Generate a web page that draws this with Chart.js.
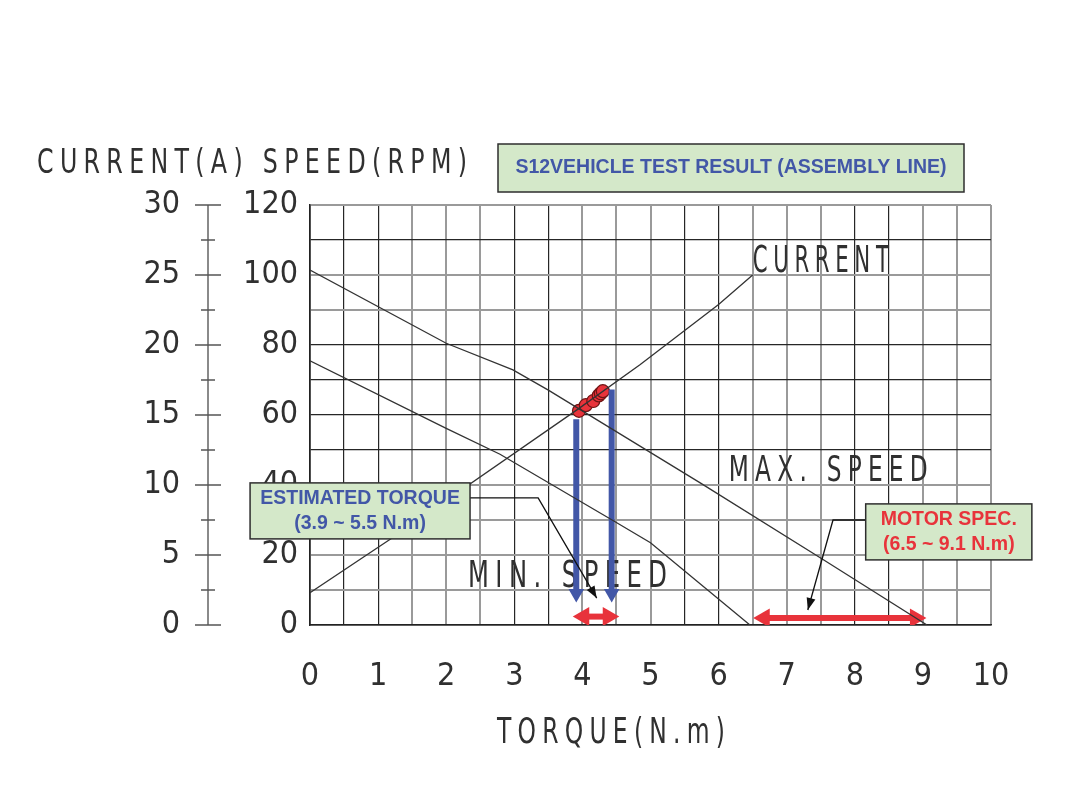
<!DOCTYPE html>
<html>
<head>
<meta charset="utf-8">
<script src="https://cdn.jsdelivr.net/npm/chart.js@4.4.1/dist/chart.umd.min.js"></script>
<style>
  html, body { margin: 0; padding: 0; background: #fff; }
  canvas { display: block; }
</style>
</head>
<body>
<canvas id="motorChart" width="1080" height="810"></canvas>
<script>
// curva de corriente (A) vs torque
const torqueCurrent = [0, 1.2, 3.93, 4.85, 6.0, 6.5];
const currentA = [2.3, 6.2, 15.4, 18.6, 22.9, 25.0];

// velocidad maxima y minima (RPM) vs torque
const torqueMax = [0, 2.0, 2.98, 3.5, 5.73, 7.51, 9.06];
const speedMax = [101.4, 80.5, 72.9, 67.1, 40.6, 19.0, 0];
const torqueMin = [0, 2.0, 2.79, 4.48, 5.0, 6.46];
const speedMin = [75.5, 56.2, 48.8, 29.5, 23.5, 0];

// resultados medidos en linea de ensamble
const testTorque = [3.95, 4.05, 4.16, 4.24, 4.27, 4.30];
const testCurrent = [15.3, 15.7, 16.0, 16.4, 16.55, 16.7];

// flechas azules (torque estimado) y rojas (rangos)
const estArrowTorque = [3.91, 4.43];
const estArrowTop = [58.8, 67.3];
const estArrowBottom = 9;
const estRange = [4.02, 4.38];
const specRange = [6.67, 8.89];
const rangeSpeed = [2.4, 2.0];

// ticks
const torqueTicks = [0, 1, 2, 3, 4, 5, 6, 7, 8, 9, 10];
const speedTicks = [0, 20, 40, 60, 80, 100, 120];
const currentTicks = [0, 5, 10, 15, 20, 25, 30];
const darkSpeedLines = [50, 60, 70, 80, 110];

const CAD_FONT = "'DejaVu Sans Condensed', 'DejaVu Sans', sans-serif";
const INK = '#303030';
const BLUE = '#4257a7';
const RED = '#e8333b';

const pts = (xs, ys) => xs.map((x, i) => ({ x: x, y: ys[i] }));

function cadText(ctx, text, x1, x2, baseline, size) {
    ctx.save();
    ctx.font = size + 'px ' + CAD_FONT;
    const sp = size * 0.24;
    ctx.letterSpacing = sp + 'px';
    const w = ctx.measureText(text).width - sp;
    ctx.translate(x1, baseline);
    ctx.scale((x2 - x1) / w, 1);
    ctx.fillStyle = INK;
    ctx.textAlign = 'left';
    ctx.textBaseline = 'alphabetic';
    ctx.fillText(text, 0, 0);
    ctx.restore();
}

function calloutBox(ctx, x1, y1, x2, y2, lines, color) {
    ctx.save();
    ctx.fillStyle = '#d4e8c9';
    ctx.fillRect(x1, y1, x2 - x1, y2 - y1);
    ctx.strokeStyle = '#2e2e2e';
    ctx.lineWidth = 1.5;
    ctx.strokeRect(x1, y1, x2 - x1, y2 - y1);
    ctx.fillStyle = color;
    ctx.font = "bold 19.5px 'Liberation Sans', Arial, sans-serif";
    ctx.textAlign = 'center';
    ctx.textBaseline = 'middle';
    const cx = (x1 + x2) / 2;
    const h = (y2 - y1) / (lines.length + 0.2);
    lines.forEach((t, i) => ctx.fillText(t, cx, y1 + h * 0.6 + h * i));
    ctx.restore();
}

function leader(ctx, p) {
    ctx.save();
    ctx.strokeStyle = '#111';
    ctx.fillStyle = '#111';
    ctx.lineWidth = 1.3;
    ctx.beginPath();
    ctx.moveTo(p[0].x, p[0].y);
    for (let i = 1; i < p.length; i++) ctx.lineTo(p[i].x, p[i].y);
    ctx.stroke();
    const a = p[p.length - 1], b = p[p.length - 2];
    const ang = Math.atan2(a.y - b.y, a.x - b.x);
    ctx.translate(a.x, a.y);
    ctx.rotate(ang);
    ctx.beginPath();
    ctx.moveTo(0, 0);
    ctx.lineTo(-12, -4.5);
    ctx.lineTo(-12, 4.5);
    ctx.closePath();
    ctx.fill();
    ctx.restore();
}

const decor = {
    id: 'decor',
    beforeDatasetsDraw(chart) {
        const { ctx, scales: { x, speed } } = chart;
        cadText(ctx, 'CURRENT', x.getPixelForValue(6.5), x.getPixelForValue(8.5), speed.getPixelForValue(100.9), 37);
        cadText(ctx, 'MAX. SPEED', x.getPixelForValue(6.15), x.getPixelForValue(9.07), speed.getPixelForValue(41.1), 36);
        cadText(ctx, 'MIN. SPEED', x.getPixelForValue(2.32), x.getPixelForValue(5.24), speed.getPixelForValue(10.9), 37);
    },
    afterDatasetsDraw(chart) {
        const { ctx, scales: { x, speed, current } } = chart;
        const P = (t, s) => ({ x: x.getPixelForValue(t), y: speed.getPixelForValue(s) });

        // eje de corriente
        ctx.save();
        const ax = current.right;
        ctx.strokeStyle = '#8a8a8a';
        ctx.lineWidth = 2;
        ctx.beginPath();
        ctx.moveTo(ax, current.getPixelForValue(0));
        ctx.lineTo(ax, current.getPixelForValue(30));
        ctx.stroke();
        ctx.strokeStyle = '#555';
        ctx.lineWidth = 1.5;
        current.ticks.forEach(t => {
            const y = current.getPixelForValue(t.value);
            const half = t.value % 5 === 0 ? 13 : 7;
            ctx.beginPath();
            ctx.moveTo(ax - half, y);
            ctx.lineTo(ax + half, y);
            ctx.stroke();
        });
        ctx.restore();

        // titulos
        cadText(ctx, 'CURRENT(A) SPEED(RPM)', 37, 467, 173, 33);
        cadText(ctx, 'TORQUE(N.m)', 497, 725, 743, 35);

        calloutBox(ctx, 498, 144, 964, 192, ['S12VEHICLE TEST RESULT (ASSEMBLY LINE)'], BLUE);

        leader(ctx, [P(2.35, 36.3), P(3.35, 36.3), P(4.21, 7.7)]);
        const e1 = P(-0.88, 40.6), e2 = P(2.35, 24.6);
        calloutBox(ctx, e1.x, e1.y, e2.x, e2.y, ['ESTIMATED TORQUE', '(3.9 ~ 5.5 N.m)'], BLUE);

        leader(ctx, [P(8.16, 30), P(7.68, 30), P(7.31, 4.3)]);
        const m1 = P(8.16, 34.6), m2 = P(10.6, 18.6);
        calloutBox(ctx, m1.x, m1.y, m2.x, m2.y, ['MOTOR SPEC.', '(6.5 ~ 9.1 N.m)'], RED);
    }
};

const curveStyle = {
    showLine: true,
    borderColor: '#333',
    borderWidth: 1.3,
    pointRadius: 0,
    tension: 0
};

const blueArrow = (i) => ({
    data: [{ x: estArrowTorque[i], y: estArrowTop[i] }, { x: estArrowTorque[i], y: estArrowBottom }],
    yAxisID: 'speed',
    showLine: true,
    borderColor: BLUE,
    backgroundColor: BLUE,
    borderWidth: 6,
    pointStyle: 'triangle',
    pointRotation: 180,
    pointRadius: [0, 9],
    pointBorderWidth: 0
});

const redArrow = (range, s) => ({
    data: [{ x: range[0], y: s }, { x: range[1], y: s }],
    yAxisID: 'speed',
    showLine: true,
    borderColor: RED,
    backgroundColor: RED,
    borderWidth: 6,
    pointStyle: 'triangle',
    pointRotation: [270, 90],
    pointRadius: 11,
    pointBorderWidth: 0
});

// lineas de rejilla oscuras y claras como en el plano escaneado
const xDark = c => [1, 2].includes(Math.round(c.tick.value * 2) % 5);
const yDark = c => darkSpeedLines.includes(c.tick.value);

new Chart(document.getElementById('motorChart').getContext('2d'), {
    type: 'scatter',
    data: {
        datasets: [
            Object.assign({ label: 'CURRENT', data: pts(torqueCurrent, currentA), yAxisID: 'current' }, curveStyle),
            Object.assign({ label: 'MAX. SPEED', data: pts(torqueMax, speedMax), yAxisID: 'speed' }, curveStyle),
            Object.assign({ label: 'MIN. SPEED', data: pts(torqueMin, speedMin), yAxisID: 'speed' }, curveStyle),
            blueArrow(0),
            blueArrow(1),
            redArrow(estRange, rangeSpeed[0]),
            redArrow(specRange, rangeSpeed[1]),
            {
                label: 'TEST',
                data: pts(testTorque, testCurrent),
                yAxisID: 'current',
                pointRadius: 6.5,
                pointBackgroundColor: RED,
                pointBorderColor: '#6e1414',
                pointBorderWidth: 1.2
            }
        ]
    },
    options: {
        responsive: false,
        animation: false,
        layout: { padding: { left: 20, right: 89, top: 205, bottom: 85 } },
        plugins: { legend: { display: false }, tooltip: { enabled: false } },
        scales: {
            x: {
                type: 'linear', min: 0, max: 10,
                ticks: {
                    stepSize: 0.5, autoSkip: false, maxRotation: 0, padding: 32,
                    color: INK, font: { family: CAD_FONT, size: 32 },
                    callback: v => torqueTicks.includes(v) ? String(v) : ''
                },
                grid: {
                    color: c => xDark(c) ? '#262626' : '#9a9a9a',
                    lineWidth: c => xDark(c) ? 1.2 : 2,
                    drawTicks: false
                },
                border: { color: '#222', width: 1.6 },
                afterFit: s => { s.height = 100; }
            },
            speed: {
                type: 'linear', position: 'left', weight: 0, min: 0, max: 120,
                ticks: {
                    stepSize: 10, autoSkip: false, padding: 12,
                    color: INK, font: { family: CAD_FONT, size: 32 },
                    callback: v => speedTicks.includes(v) ? String(v) : ''
                },
                grid: {
                    color: c => yDark(c) ? '#262626' : '#9a9a9a',
                    lineWidth: c => yDark(c) ? 1.2 : 2,
                    drawTicks: false
                },
                border: { color: '#222', width: 1.6 },
                afterFit: s => { s.width = 102; }
            },
            current: {
                type: 'linear', position: 'left', weight: 1, min: 0, max: 30,
                ticks: {
                    stepSize: 2.5, autoSkip: false, padding: 20,
                    color: INK, font: { family: CAD_FONT, size: 32 },
                    callback: v => currentTicks.includes(v) ? String(v) : ''
                },
                grid: { display: false },
                border: { display: false },
                afterFit: s => { s.width = 188; }
            }
        }
    },
    plugins: [decor]
});
</script>
</body>
</html>
